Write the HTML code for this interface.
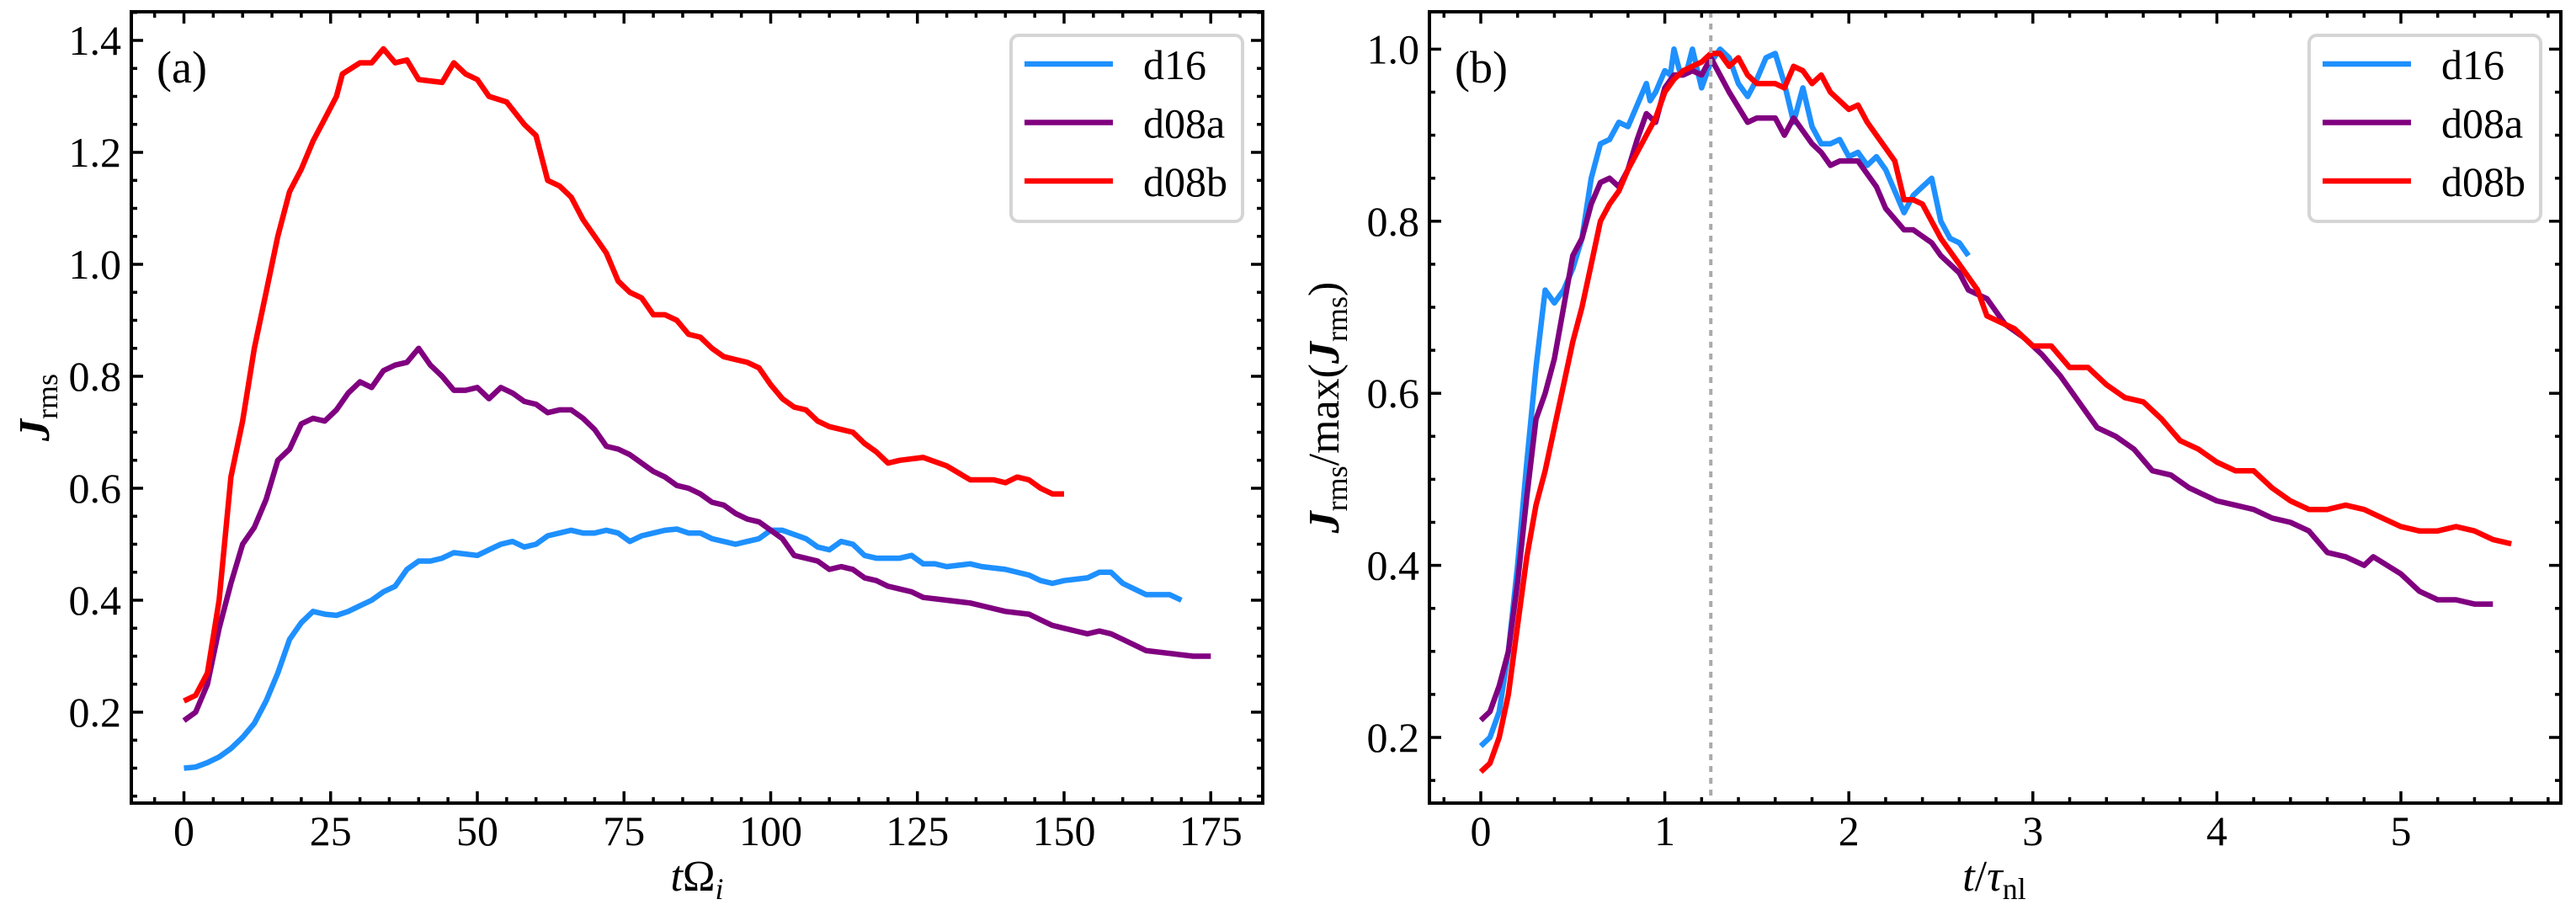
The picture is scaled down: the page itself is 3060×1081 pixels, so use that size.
<!DOCTYPE html>
<html><head><meta charset="utf-8"><style>
html,body{margin:0;padding:0;background:#fff}
svg{display:block}
text{font-family:"Liberation Serif",serif;fill:#000}
</style></head><body>
<svg id="fig" width="3060" height="1081" viewBox="0 0 3060 1081" xmlns="http://www.w3.org/2000/svg"></svg>
<script>
// ---- Panel (a) data ----
const aD16X=[0,2,4,6,8,10,12,14,16,18,20,22,24,26,28,30,32,34,36,38,40,42,44,46,50,52,54,56,58,60,62,64,66,68,70,72,74,76,78,80,82,84,86,88,90,94,96,98,100,102,106,108,110,112,114,116,118,122,124,126,128,130,134,136,140,144,146,148,150,154,156,158,160,162,164,168,170];
const aD16Y=[0.10,0.102,0.11,0.12,0.135,0.155,0.18,0.22,0.27,0.33,0.36,0.38,0.375,0.373,0.38,0.39,0.40,0.415,0.425,0.455,0.47,0.47,0.475,0.485,0.48,0.49,0.50,0.505,0.495,0.50,0.515,0.52,0.525,0.52,0.52,0.525,0.52,0.505,0.515,0.52,0.525,0.527,0.52,0.52,0.51,0.50,0.505,0.51,0.525,0.525,0.51,0.495,0.49,0.505,0.50,0.48,0.475,0.475,0.48,0.465,0.465,0.46,0.465,0.46,0.455,0.445,0.435,0.43,0.435,0.44,0.45,0.45,0.43,0.42,0.41,0.41,0.40];
const aD08aX=[0,2,4,6,8,10,12,14,16,18,20,22,24,26,28,30,32,34,36,38,40,42,44,46,48,50,52,54,56,58,60,62,64,66,68,70,72,74,76,78,80,82,84,86,88,90,92,94,96,98,100,102,104,106,108,110,112,114,116,118,120,122,124,126,130,134,136,138,140,144,146,148,150,152,154,156,158,160,162,164,168,172,175];
const aD08aY=[0.185,0.20,0.25,0.35,0.43,0.50,0.53,0.58,0.65,0.67,0.715,0.725,0.72,0.74,0.77,0.79,0.78,0.81,0.82,0.825,0.85,0.82,0.80,0.775,0.775,0.78,0.76,0.78,0.77,0.755,0.75,0.735,0.74,0.74,0.725,0.705,0.675,0.67,0.66,0.645,0.63,0.62,0.605,0.60,0.59,0.575,0.57,0.555,0.545,0.54,0.525,0.51,0.48,0.475,0.47,0.455,0.46,0.455,0.44,0.435,0.425,0.42,0.415,0.405,0.40,0.395,0.39,0.385,0.38,0.375,0.365,0.355,0.35,0.345,0.34,0.345,0.34,0.33,0.32,0.31,0.305,0.30,0.30];
const aD08bX=[0,2,4,6,8,10,12,14,16,18,20,22,24,26,27,30,32,34,36,38,40,44,46,48,50,52,55,58,60,62,64,66,68,70,72,74,76,78,80,82,84,86,88,90,92,94,96,98,100,102,104,106,108,110,114,116,118,120,122,126,130,134,138,140,142,144,146,148,150];
const aD08bY=[0.22,0.23,0.27,0.40,0.62,0.72,0.85,0.95,1.05,1.13,1.17,1.22,1.26,1.30,1.34,1.36,1.36,1.385,1.36,1.365,1.33,1.325,1.36,1.34,1.33,1.30,1.29,1.25,1.23,1.15,1.14,1.12,1.08,1.05,1.02,0.97,0.95,0.94,0.91,0.91,0.90,0.875,0.87,0.85,0.835,0.83,0.825,0.815,0.785,0.76,0.745,0.74,0.72,0.71,0.70,0.68,0.665,0.645,0.65,0.655,0.64,0.615,0.615,0.61,0.62,0.615,0.60,0.59,0.59];
const aXTicks=[0,25,50,75,100,125,150,175];
const aXTickLabels=["0","25","50","75","100","125","150","175"];
const aYTicks=[0.2,0.4,0.6,0.8,1.0,1.2,1.4];
const aYTickLabels=["0.2","0.4","0.6","0.8","1.0","1.2","1.4"];
// ---- Panel (b) data ----
const bD16X=[0,0.05,0.1,0.15,0.2,0.25,0.3,0.35,0.4,0.45,0.5,0.55,0.6,0.65,0.7,0.75,0.8,0.85,0.9,0.92,0.95,1.0,1.03,1.05,1.08,1.12,1.15,1.2,1.25,1.3,1.35,1.4,1.45,1.5,1.55,1.6,1.65,1.7,1.75,1.8,1.85,1.9,1.95,2.0,2.05,2.1,2.15,2.2,2.25,2.3,2.35,2.4,2.45,2.5,2.55,2.6,2.65];
const bD16Y=[0.19,0.20,0.23,0.30,0.40,0.52,0.63,0.72,0.705,0.72,0.745,0.78,0.85,0.89,0.895,0.915,0.91,0.935,0.96,0.94,0.95,0.975,0.97,1.0,0.975,0.975,1.0,0.955,0.985,1.0,0.99,0.96,0.945,0.965,0.99,0.995,0.96,0.915,0.955,0.91,0.89,0.89,0.895,0.875,0.88,0.865,0.875,0.86,0.835,0.81,0.83,0.84,0.85,0.80,0.78,0.775,0.76];
const bD08aX=[0,0.05,0.1,0.15,0.2,0.25,0.3,0.35,0.4,0.45,0.5,0.55,0.6,0.65,0.7,0.75,0.8,0.85,0.9,0.95,1.0,1.05,1.1,1.15,1.2,1.25,1.3,1.35,1.45,1.5,1.6,1.65,1.7,1.75,1.8,1.85,1.9,1.95,2.05,2.15,2.2,2.3,2.35,2.45,2.5,2.6,2.65,2.75,2.85,2.95,3.05,3.15,3.25,3.35,3.45,3.55,3.65,3.75,3.85,4.0,4.1,4.2,4.3,4.4,4.5,4.6,4.7,4.8,4.85,5.0,5.1,5.2,5.3,5.4,5.5];
const bD08aY=[0.22,0.23,0.26,0.30,0.38,0.48,0.57,0.60,0.64,0.70,0.76,0.78,0.82,0.845,0.85,0.84,0.86,0.895,0.925,0.915,0.955,0.97,0.97,0.975,0.97,0.99,0.97,0.95,0.915,0.92,0.92,0.90,0.92,0.905,0.89,0.88,0.865,0.87,0.87,0.84,0.815,0.79,0.79,0.775,0.76,0.74,0.72,0.71,0.68,0.665,0.645,0.62,0.59,0.56,0.55,0.535,0.51,0.505,0.49,0.475,0.47,0.465,0.455,0.45,0.44,0.415,0.41,0.40,0.41,0.39,0.37,0.36,0.36,0.355,0.355];
const bD08bX=[0,0.05,0.1,0.15,0.2,0.25,0.3,0.35,0.4,0.45,0.5,0.55,0.6,0.65,0.7,0.75,0.8,0.85,0.9,0.95,1.0,1.05,1.1,1.15,1.2,1.25,1.3,1.35,1.4,1.45,1.5,1.6,1.65,1.7,1.75,1.8,1.85,1.9,1.95,2.0,2.05,2.1,2.15,2.2,2.25,2.3,2.35,2.4,2.5,2.6,2.7,2.75,2.8,2.9,3.0,3.1,3.2,3.3,3.4,3.5,3.6,3.7,3.8,3.9,4.0,4.1,4.2,4.3,4.4,4.5,4.6,4.7,4.8,4.9,5.0,5.1,5.2,5.3,5.4,5.5,5.6];
const bD08bY=[0.16,0.17,0.20,0.25,0.33,0.41,0.47,0.51,0.56,0.61,0.66,0.70,0.75,0.80,0.82,0.835,0.86,0.88,0.90,0.92,0.95,0.965,0.975,0.98,0.985,0.995,0.995,0.98,0.99,0.97,0.96,0.96,0.955,0.98,0.975,0.96,0.97,0.95,0.94,0.93,0.935,0.915,0.90,0.885,0.87,0.825,0.825,0.82,0.78,0.75,0.72,0.69,0.685,0.675,0.655,0.655,0.63,0.63,0.61,0.595,0.59,0.57,0.545,0.535,0.52,0.51,0.51,0.49,0.475,0.465,0.465,0.47,0.465,0.455,0.445,0.44,0.44,0.445,0.44,0.43,0.425];
const bXTicks=[0,1,2,3,4,5];
const bXTickLabels=["0","1","2","3","4","5"];
const bYTicks=[0.2,0.4,0.6,0.8,1.0];
const bYTickLabels=["0.2","0.4","0.6","0.8","1.0"];
const bPeak=[1.25];
const seriesNames=["d16","d08a","d08b"];
const colors=["#1e90ff","#800080","#ff0000"];

const NS="http://www.w3.org/2000/svg";
const svg=document.getElementById('fig');
function el(tag,attrs,parent){const e=document.createElementNS(NS,tag);for(const k in attrs)e.setAttribute(k,attrs[k]);(parent||svg).appendChild(e);return e;}

function panel(cfg){
  const g=el('g',{});
  
  
  const X=v=>cfg.x0+(v-cfg.xv0)*cfg.xs;
  const Y=v=>cfg.y0-(v-cfg.yv0)*cfg.ys;
  cfg.series.forEach((s,i)=>{
    const d=s.x.map((xv,j)=>(j?'L':'M')+X(xv).toFixed(1)+','+Y(s.y[j]).toFixed(1)).join(' ');
    const p=el('path',{d:d,fill:'none',stroke:colors[i],'stroke-width':6.5,'stroke-linejoin':'round','stroke-linecap':'butt'},g);
    
    
  });
  if(cfg.vline){cfg.vline.forEach(v=>{
    const l=el('line',{x1:X(v),x2:X(v),y1:cfg.T,y2:cfg.B,stroke:'#aaaaaa','stroke-width':4,'stroke-dasharray':'7,7'},g);
    
    
  });}
  const fr=el('rect',{x:cfg.L,y:cfg.T,width:cfg.R-cfg.L,height:cfg.B-cfg.T,fill:'none',stroke:'#000','stroke-width':4},g);
  
  
  const xt=el('g',{stroke:'#000','stroke-width':3.5},g);
  
  
  for(let v=cfg.xMinorStart;v<=cfg.xMax+1e-9;v+=cfg.xMinor){
    const px=X(v); if(px<cfg.L||px>cfg.R)continue;
    const major=cfg.xTicks.some(t=>Math.abs(t-v)<1e-6);
    const len=major?14:7;
    el('line',{x1:px,x2:px,y1:cfg.B,y2:cfg.B-len},xt);
    el('line',{x1:px,x2:px,y1:cfg.T,y2:cfg.T+len},xt);
  }
  cfg.xTicks.forEach((v,i)=>{
    const t=el('text',{x:X(v),y:1004,'text-anchor':'middle','font-size':50},g);
    t.textContent=cfg.xLabels[i];
    
    
  });
  const yt=el('g',{stroke:'#000','stroke-width':3.5},g);
  
  
  for(let v=cfg.yMinorStart;v<=cfg.yMax+1e-9;v+=cfg.yMinor){
    const py=Y(v); if(py<cfg.T||py>cfg.B)continue;
    const major=cfg.yTicks.some(t=>Math.abs(t-v)<1e-6);
    const len=major?14:7;
    el('line',{x1:cfg.L,x2:cfg.L+len,y1:py,y2:py},yt);
    el('line',{x1:cfg.R,x2:cfg.R-len,y1:py,y2:py},yt);
  }
  cfg.yTicks.forEach((v,i)=>{
    const t=el('text',{x:cfg.L-12,y:Y(v)+17,'text-anchor':'end','font-size':50},g);
    t.textContent=cfg.yLabels[i];
    
    
  });
  const pl=el('text',{x:cfg.L+30,y:98,'font-size':54},g);
  pl.textContent=cfg.tag;
  
  
  const lg=el('g',{},g);
  
  
  const bx=cfg.R-299;
  el('rect',{x:bx,y:42,width:275,height:221,rx:9,fill:'#fff','fill-opacity':0.8,stroke:'#d5d5d5','stroke-width':4},lg);
  seriesNames.forEach((n,i)=>{
    const e=el('g',{},lg);
    
    
    el('line',{x1:bx+16,x2:bx+121,y1:76+i*69.5,y2:76+i*69.5,stroke:colors[i],'stroke-width':6.5},e);
    const t=el('text',{x:bx+157,y:94+i*69.5,'font-size':50},e);
    t.textContent=n;
  });
}

panel({name:'panel-a',L:156,R:1500,T:14,B:954,x0:218.5,xv0:0,xs:6.97,y0:846,yv0:0.2,ys:665,
  xTicks:aXTicks,xLabels:aXTickLabels,yTicks:aYTicks,yLabels:aYTickLabels,
  xMinorStart:-5,xMinor:5,xMax:190,yMinorStart:0.05,yMinor:0.05,yMax:1.5,tag:'(a)',
  series:[{x:aD16X,y:aD16Y},{x:aD08aX,y:aD08aY},{x:aD08bX,y:aD08bY}]});
panel({name:'panel-b',L:1698,R:3042,T:14,B:954,x0:1759,xv0:0,xs:218.6,y0:876,yv0:0.2,ys:1022,
  xTicks:bXTicks,xLabels:bXTickLabels,yTicks:bYTicks,yLabels:bYTickLabels,
  xMinorStart:-0.2,xMinor:0.2,xMax:6,yMinorStart:0.15,yMinor:0.05,yMax:1.1,tag:'(b)',vline:bPeak,
  series:[{x:bD16X,y:bD16Y},{x:bD08aX,y:bD08aY},{x:bD08bX,y:bD08bY}]});
</script>
<div style="position:absolute;left:0;top:0;width:3060px;height:1081px;pointer-events:none">
<svg width="3060" height="1081" style="position:absolute;left:0;top:0">
  <text x="828" y="1058" text-anchor="middle" font-size="52" font-family="Liberation Serif,serif"><tspan font-style="italic">t</tspan>Ω<tspan font-style="italic" font-size="36" dy="10">i</tspan></text>
  <text x="2369" y="1058" text-anchor="middle" font-size="52" font-family="Liberation Serif,serif"><tspan font-style="italic">t</tspan>/<tspan font-style="italic">τ</tspan><tspan font-size="36" dy="10">nl</tspan></text>
  <text transform="translate(58,484) rotate(-90)" text-anchor="middle" font-size="52" font-family="Liberation Serif,serif"><tspan font-style="italic" font-weight="bold">J</tspan><tspan font-size="36" dy="10">rms</tspan></text>
  <text transform="translate(1590,484) rotate(-90)" text-anchor="middle" font-size="52" font-family="Liberation Serif,serif"><tspan font-style="italic" font-weight="bold">J</tspan><tspan font-size="36" dy="10">rms</tspan><tspan dy="-10">/max(</tspan><tspan font-style="italic" font-weight="bold">J</tspan><tspan font-size="36" dy="10">rms</tspan><tspan dy="-10">)</tspan></text>
</svg>
</div>
</body></html>
